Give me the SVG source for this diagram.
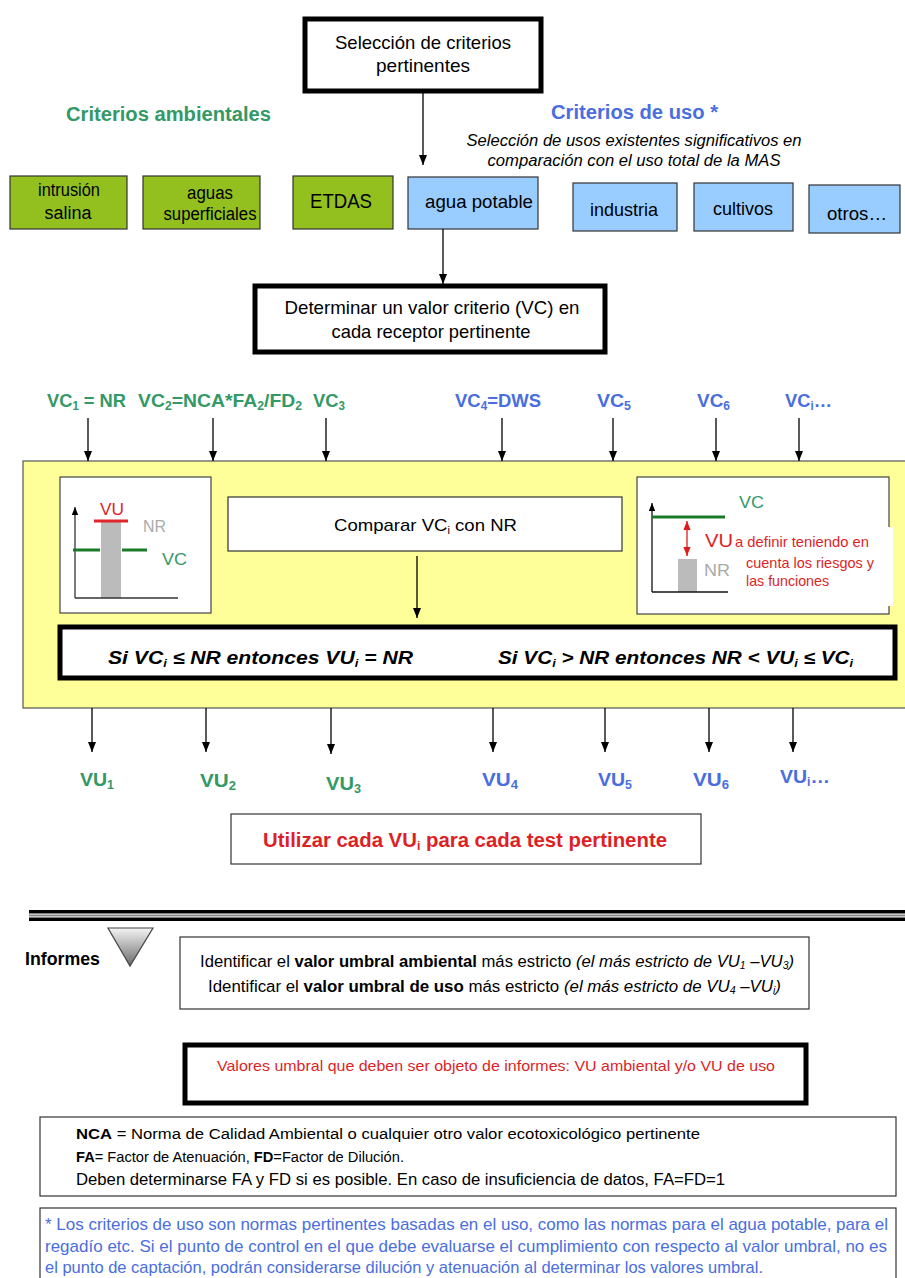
<svg xmlns="http://www.w3.org/2000/svg" width="905" height="1278" viewBox="0 0 905 1278">
<style>
text{font-family:"Liberation Sans Narrow","Liberation Sans",Arial,sans-serif;}
.c{text-anchor:middle}
.grn{fill:#339966}
.blu{fill:#4a6ee0}
.red{fill:#dd1f26}
.gry{fill:#aaaaaa}
.bold{font-weight:bold}
.it{font-style:italic}
.gbox{fill:#93c01f;stroke:#333;stroke-width:1.2}
.bbox{fill:#99ccff;stroke:#333;stroke-width:1.2}
.thin{fill:#fff;stroke:#333;stroke-width:1.2}
.thick{fill:#fff;stroke:#000;stroke-width:5}
.conn line{stroke:#000;stroke-width:1.3;marker-end:url(#ah)}
</style>
<defs>
<marker id="ah" viewBox="0 0 10 10" refX="10" refY="5" markerWidth="11" markerHeight="10" markerUnits="userSpaceOnUse" orient="auto"><path d="M0,1 L10,5 L0,9 z" fill="#000"/></marker>
<marker id="ahs" viewBox="0 0 10 10" refX="10" refY="5" markerWidth="8" markerHeight="8" markerUnits="userSpaceOnUse" orient="auto"><path d="M0,1 L10,5 L0,9 z" fill="#000"/></marker>
<marker id="ahr" viewBox="0 0 10 10" refX="10" refY="5" markerWidth="9" markerHeight="9" markerUnits="userSpaceOnUse" orient="auto-start-reverse"><path d="M0,1 L10,5 L0,9 z" fill="#e01b1b"/></marker>
<linearGradient id="tri" x1="0" y1="0" x2="0" y2="1"><stop offset="0" stop-color="#f4f4f4"/><stop offset="1" stop-color="#6a6a6a"/></linearGradient>
</defs>
<rect width="905" height="1278" fill="#fff"/>

<g id="seleccion">
<rect x="305" y="19" width="236" height="72" class="thick" stroke-width="4"/>
<text x="423" y="49" class="c" font-size="19" textLength="176" lengthAdjust="spacingAndGlyphs">Selección de criterios</text>
<text x="423" y="72" class="c" font-size="19" textLength="94" lengthAdjust="spacingAndGlyphs">pertinentes</text>
</g>

<g id="titulos">
<text x="66" y="121" font-size="20" class="grn bold" textLength="205" lengthAdjust="spacingAndGlyphs">Criterios ambientales</text>
<text x="551" y="119" font-size="20" class="blu bold" textLength="167" lengthAdjust="spacingAndGlyphs">Criterios de uso *</text>
<text x="634" y="146" class="c it" font-size="16" textLength="335" lengthAdjust="spacingAndGlyphs">Selección de usos existentes significativos en</text>
<text x="634" y="166" class="c it" font-size="16" textLength="293" lengthAdjust="spacingAndGlyphs">comparación con el uso total de la MAS</text>
</g>

<g id="intrusion"><rect x="10" y="176" width="117" height="53" class="gbox"/>
<text x="69" y="196" class="c" font-size="18" textLength="62" lengthAdjust="spacingAndGlyphs">intrusión</text>
<text x="68" y="219" class="c" font-size="18" textLength="47" lengthAdjust="spacingAndGlyphs">salina</text></g>
<g id="aguas"><rect x="143" y="176" width="117" height="53" class="gbox"/>
<text x="210" y="199" class="c" font-size="18" textLength="46" lengthAdjust="spacingAndGlyphs">aguas</text>
<text x="210" y="220" class="c" font-size="18" textLength="93" lengthAdjust="spacingAndGlyphs">superficiales</text></g>
<g id="etdas"><rect x="293" y="176" width="100" height="53" class="gbox"/>
<text x="341" y="208" class="c" font-size="20" textLength="62" lengthAdjust="spacingAndGlyphs">ETDAS</text></g>
<g id="agua_potable"><rect x="408" y="177" width="130" height="52" class="bbox"/>
<text x="479" y="208" class="c" font-size="19" textLength="108" lengthAdjust="spacingAndGlyphs">agua potable</text></g>
<g id="industria"><rect x="573" y="183" width="104" height="48" class="bbox"/>
<text x="624" y="216" class="c" font-size="19" textLength="68" lengthAdjust="spacingAndGlyphs">industria</text></g>
<g id="cultivos"><rect x="694" y="183" width="99" height="48" class="bbox"/>
<text x="743" y="215" class="c" font-size="19" textLength="60" lengthAdjust="spacingAndGlyphs">cultivos</text></g>
<g id="otros"><rect x="809" y="185" width="91" height="48" class="bbox"/>
<text x="857" y="220" class="c" font-size="19" textLength="60" lengthAdjust="spacingAndGlyphs">otros…</text></g>

<g id="determinar">
<rect x="255" y="286" width="350" height="66" class="thick"/>
<text x="432" y="314" class="c" font-size="19" textLength="295" lengthAdjust="spacingAndGlyphs">Determinar un valor criterio (VC) en</text>
<text x="431" y="338" class="c" font-size="19" textLength="199" lengthAdjust="spacingAndGlyphs">cada receptor pertinente</text>
</g>

<g id="vc_labels" font-size="19" class="bold">
<text x="47" y="407" class="grn" textLength="79" lengthAdjust="spacingAndGlyphs">VC<tspan font-size="12" dy="3">1</tspan><tspan dy="-3"> = NR</tspan></text>
<text x="138" y="407" class="grn" textLength="164" lengthAdjust="spacingAndGlyphs">VC<tspan font-size="12" dy="3">2</tspan><tspan dy="-3">=NCA*FA</tspan><tspan font-size="12" dy="3">2</tspan><tspan dy="-3">/FD</tspan><tspan font-size="12" dy="3">2</tspan></text>
<text x="313" y="407" class="grn" textLength="32" lengthAdjust="spacingAndGlyphs">VC<tspan font-size="12" dy="3">3</tspan></text>
<text x="455" y="407" class="blu" textLength="86" lengthAdjust="spacingAndGlyphs">VC<tspan font-size="12" dy="3">4</tspan><tspan dy="-3">=DWS</tspan></text>
<text x="597" y="407" class="blu" textLength="34" lengthAdjust="spacingAndGlyphs">VC<tspan font-size="12" dy="3">5</tspan></text>
<text x="697" y="407" class="blu" textLength="33" lengthAdjust="spacingAndGlyphs">VC<tspan font-size="12" dy="3">6</tspan></text>
<text x="785" y="407" class="blu" textLength="47" lengthAdjust="spacingAndGlyphs">VC<tspan font-size="12" dy="3">i</tspan><tspan dy="-3">…</tspan></text>
</g>

<g id="comparacion">
<rect x="23" y="461" width="884" height="247" fill="#ffff99" stroke="#555" stroke-width="1.2"/>
</g>

<g id="grafico_izq">
<rect x="60" y="477" width="151" height="136" fill="#fff" stroke="#444" stroke-width="1.2"/>
<rect x="101" y="522" width="20" height="76" fill="#bbbbbb"/>
<line x1="75" y1="598" x2="75" y2="507" stroke="#333" stroke-width="1.3" marker-end="url(#ahs)"/>
<line x1="75" y1="598" x2="178" y2="598" stroke="#333" stroke-width="1.3"/>
<line x1="94" y1="521" x2="128" y2="521" stroke="#e0262b" stroke-width="3"/>
<line x1="73" y1="550" x2="100" y2="550" stroke="#1a7a2a" stroke-width="3"/>
<line x1="122" y1="550" x2="147" y2="550" stroke="#1a7a2a" stroke-width="3"/>
<text x="100" y="515" font-size="16" class="red" textLength="24" lengthAdjust="spacingAndGlyphs">VU</text>
<text x="143" y="532" font-size="16" class="gry" textLength="23" lengthAdjust="spacingAndGlyphs">NR</text>
<text x="162" y="565" font-size="16" class="grn" textLength="25" lengthAdjust="spacingAndGlyphs">VC</text>
</g>

<g id="comparar">
<rect x="228" y="497" width="394" height="54" class="thin"/>
<text x="334" y="531" font-size="17" textLength="183" lengthAdjust="spacingAndGlyphs">Comparar VC<tspan font-size="10" dy="3">i</tspan><tspan dy="-3"> con NR</tspan></text>
</g>

<g id="grafico_der">
<rect x="637" y="477" width="252" height="137" fill="#fff" stroke="#444" stroke-width="1.2"/>
<rect x="740" y="527" width="153" height="79" fill="#fff"/>
<rect x="678" y="559" width="19" height="33" fill="#bbbbbb"/>
<line x1="652" y1="592" x2="652" y2="503" stroke="#111" stroke-width="1.3" marker-end="url(#ahs)"/>
<line x1="652" y1="592" x2="728" y2="592" stroke="#111" stroke-width="1.3"/>
<line x1="652" y1="517" x2="725" y2="517" stroke="#1a7a2a" stroke-width="3"/>
<line x1="687" y1="521" x2="687" y2="556" stroke="#e01b1b" stroke-width="1.3" marker-start="url(#ahr)" marker-end="url(#ahr)"/>
<text x="739" y="508" font-size="16" class="grn" textLength="25" lengthAdjust="spacingAndGlyphs">VC</text>
<text x="705" y="547" font-size="18" class="red" textLength="28" lengthAdjust="spacingAndGlyphs">VU</text>
<text x="735" y="547" font-size="15" class="red" textLength="134" lengthAdjust="spacingAndGlyphs">a definir teniendo en</text>
<text x="746" y="568" font-size="15" class="red" textLength="128" lengthAdjust="spacingAndGlyphs">cuenta los riesgos y</text>
<text x="746" y="586" font-size="15" class="red" textLength="83" lengthAdjust="spacingAndGlyphs">las funciones</text>
<text x="704" y="576" font-size="16" class="gry" textLength="26" lengthAdjust="spacingAndGlyphs">NR</text>
</g>

<g id="reglas">
<rect x="60" y="627" width="835" height="51" class="thick" stroke-width="5"/>
<text x="108" y="664" font-size="18" class="bold it" textLength="305" lengthAdjust="spacingAndGlyphs">Si VC<tspan font-size="11" dy="3">i</tspan><tspan dy="-3"> ≤ NR  entonces  VU</tspan><tspan font-size="11" dy="3">i</tspan><tspan dy="-3"> = NR</tspan></text>
<text x="498" y="664" font-size="18" class="bold it" textLength="355" lengthAdjust="spacingAndGlyphs">Si VC<tspan font-size="11" dy="3">i</tspan><tspan dy="-3"> &gt; NR  entonces  NR &lt; VU</tspan><tspan font-size="11" dy="3">i</tspan><tspan dy="-3"> ≤ VC</tspan><tspan font-size="11" dy="3">i</tspan></text>
</g>

<g id="vu_labels" font-size="19" class="bold">
<text x="80" y="786" class="grn" textLength="34" lengthAdjust="spacingAndGlyphs">VU<tspan font-size="12" dy="3">1</tspan></text>
<text x="200" y="787" class="grn" textLength="36" lengthAdjust="spacingAndGlyphs">VU<tspan font-size="12" dy="3">2</tspan></text>
<text x="326" y="790" class="grn" textLength="35" lengthAdjust="spacingAndGlyphs">VU<tspan font-size="12" dy="3">3</tspan></text>
<text x="482" y="786" class="blu" textLength="36" lengthAdjust="spacingAndGlyphs">VU<tspan font-size="12" dy="3">4</tspan></text>
<text x="598" y="786" class="blu" textLength="34" lengthAdjust="spacingAndGlyphs">VU<tspan font-size="12" dy="3">5</tspan></text>
<text x="693" y="786" class="blu" textLength="36" lengthAdjust="spacingAndGlyphs">VU<tspan font-size="12" dy="3">6</tspan></text>
<text x="780" y="783" class="blu" textLength="50" lengthAdjust="spacingAndGlyphs">VU<tspan font-size="12" dy="3">i</tspan><tspan dy="-3">…</tspan></text>
</g>

<g id="utilizar">
<rect x="231" y="814" width="470" height="50" class="thin"/>
<text x="263" y="847" font-size="20" class="red bold" textLength="404" lengthAdjust="spacingAndGlyphs">Utilizar cada VU<tspan font-size="12" dy="3">i</tspan><tspan dy="-3"> para cada test pertinente</tspan></text>
</g>

<g id="separador">
<rect x="29" y="910" width="876" height="3.5" fill="#000"/>
<rect x="29" y="914.5" width="876" height="2" fill="#888"/>
<rect x="29" y="917.5" width="876" height="3.5" fill="#000"/>
</g>

<g id="informes">
<text x="25" y="965" font-size="19" class="bold" textLength="75" lengthAdjust="spacingAndGlyphs">Informes</text>
<polygon points="108,928 153,928 130,966" fill="url(#tri)" stroke="#444" stroke-width="1.2"/>
</g>

<g id="identificar">
<rect x="180" y="937" width="629" height="72" class="thin"/>
<text x="200" y="967" font-size="16" textLength="594" lengthAdjust="spacingAndGlyphs">Identificar el <tspan font-weight="bold">valor umbral ambiental</tspan> más estricto <tspan font-style="italic">(el más estricto de VU<tspan font-size="10" dy="2">1</tspan><tspan dy="-2"> –VU</tspan><tspan font-size="10" dy="2">3</tspan><tspan dy="-2">)</tspan></tspan></text>
<text x="208" y="992" font-size="16" textLength="573" lengthAdjust="spacingAndGlyphs">Identificar el <tspan font-weight="bold">valor umbral de uso</tspan> más estricto <tspan font-style="italic">(el más estricto de VU<tspan font-size="10" dy="2">4</tspan><tspan dy="-2"> –VU</tspan><tspan font-size="10" dy="2">i</tspan><tspan dy="-2">)</tspan></tspan></text>
</g>

<g id="valores">
<rect x="185" y="1045" width="621" height="58" class="thick"/>
<text x="496" y="1071" class="c red" font-size="15" textLength="558" lengthAdjust="spacingAndGlyphs">Valores umbral que deben ser objeto de informes:  VU ambiental y/o VU de uso</text>
</g>

<g id="definiciones">
<rect x="40" y="1117" width="856" height="79" class="thin"/>
<text x="76" y="1139" font-size="14" textLength="624" lengthAdjust="spacingAndGlyphs"><tspan font-weight="bold">NCA</tspan> = Norma de Calidad Ambiental o cualquier otro valor ecotoxicológico pertinente</text>
<text x="76" y="1162" font-size="14" textLength="328" lengthAdjust="spacingAndGlyphs"><tspan font-weight="bold">FA</tspan>= Factor de Atenuación, <tspan font-weight="bold">FD</tspan>=Factor de Dilución.</text>
<text x="76" y="1185" font-size="16" textLength="649" lengthAdjust="spacingAndGlyphs">Deben determinarse FA y FD si es posible. En caso de insuficiencia de datos, FA=FD=1</text>
</g>

<g id="nota">
<rect x="40" y="1208" width="856" height="80" class="thin"/>
<text x="45" y="1230" font-size="17" class="blu" textLength="843" lengthAdjust="spacingAndGlyphs">* Los criterios de uso son normas pertinentes basadas en el uso, como las normas para el agua potable, para el</text>
<text x="45" y="1252" font-size="17" class="blu" textLength="842" lengthAdjust="spacingAndGlyphs">regadío etc.  Si el punto de control en el que debe evaluarse el cumplimiento con respecto al valor umbral, no es</text>
<text x="45" y="1273" font-size="17" class="blu" textLength="718" lengthAdjust="spacingAndGlyphs">el punto de captación, podrán considerarse  dilución y atenuación al determinar los valores umbral.</text>
</g>

<g id="connectors" class="conn">
<line x1="423" y1="93" x2="423" y2="165"/>
<line x1="443" y1="229" x2="443" y2="284"/>
<line x1="88" y1="418" x2="88" y2="461"/>
<line x1="213" y1="418" x2="213" y2="461"/>
<line x1="326" y1="418" x2="326" y2="461"/>
<line x1="502" y1="418" x2="502" y2="461"/>
<line x1="613" y1="418" x2="613" y2="461"/>
<line x1="716" y1="418" x2="716" y2="461"/>
<line x1="799" y1="418" x2="799" y2="461"/>
<line x1="417" y1="556" x2="417" y2="618"/>
<line x1="92" y1="708" x2="92" y2="752"/>
<line x1="206" y1="708" x2="206" y2="752"/>
<line x1="331" y1="708" x2="331" y2="754"/>
<line x1="493" y1="708" x2="493" y2="752"/>
<line x1="605" y1="708" x2="605" y2="752"/>
<line x1="709" y1="708" x2="709" y2="752"/>
<line x1="793" y1="708" x2="793" y2="752"/>
</g>
</svg>
